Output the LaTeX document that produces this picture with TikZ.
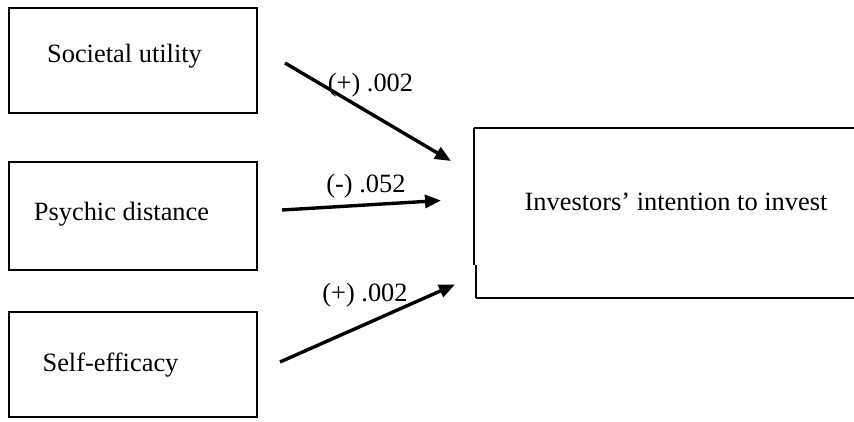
\documentclass[tikz,border=0pt]{standalone}
\usepackage{fontspec}
\setmainfont{Liberation Serif}
\usetikzlibrary{arrows.meta}
\tikzset{
  srcbox/.style={draw=black, line width=2pt, inner sep=0pt},
  txt/.style={anchor=base, inner sep=0pt, font=\fontsize{26.4}{30}\selectfont},
  pathlabel/.style={anchor=base, inner sep=0pt, font=\fontsize{26.4}{30}\selectfont},
  effect/.style={line width=3.4pt, -{Triangle[length=16pt,width=13pt]}},
}
\begin{document}
\begin{tikzpicture}[x=1pt,y=-1pt]
\useasboundingbox (0,0) rectangle (854,421);
\clip (0,0) rectangle (854,421);
% left boxes
\node[srcbox, minimum width=248pt, minimum height=105pt] (su) at (133,60.5) {};
\node[srcbox, minimum width=248pt, minimum height=108pt] (pd) at (133,216) {};
\node[srcbox, minimum width=248pt, minimum height=105pt] (se) at (133,364.5) {};
\node[txt] (sut) at (124.5,62) {Societal utility};
\node[txt] (pdt) at (121.5,220) {Psychic distance};
\node[txt] (set) at (110.5,371.5) {Self-efficacy};
% target box (open to the right)
\node[inner sep=0pt, minimum width=383pt, minimum height=170pt] (iit) at (666,213) {};
\draw[line width=2pt] (iit.north west) -- (iit.north east);
\draw[line width=2.2pt] (iit.north west) -- ++(0,137);
\draw[line width=1.6pt] ([xshift=1.5pt]iit.south west) -- ++(0,-33);
\draw[line width=2pt] ([xshift=1.5pt]iit.south west) -- (iit.south east);
\node[txt] (iitt) at (676,210) {Investors’ intention to invest};
% arrows
\coordinate (a1s) at (285,63);
\coordinate (a1e) at (451,161);
\coordinate (a2s) at (282,210);
\coordinate (a2e) at (441,200.5);
\coordinate (a3s) at (280,362);
\coordinate (a3e) at (455,284.5);
\draw[effect] (a1s) -- (a1e);
\draw[effect] (a2s) -- (a2e);
\draw[effect] (a3s) -- (a3e);
\node[pathlabel] (l1) at (370.5,91) {(+) .002};
\node[pathlabel] (l2) at (366,192) {(-) .052};
\node[pathlabel] (l3) at (365,301) {(+) .002};
\end{tikzpicture}
\end{document}
